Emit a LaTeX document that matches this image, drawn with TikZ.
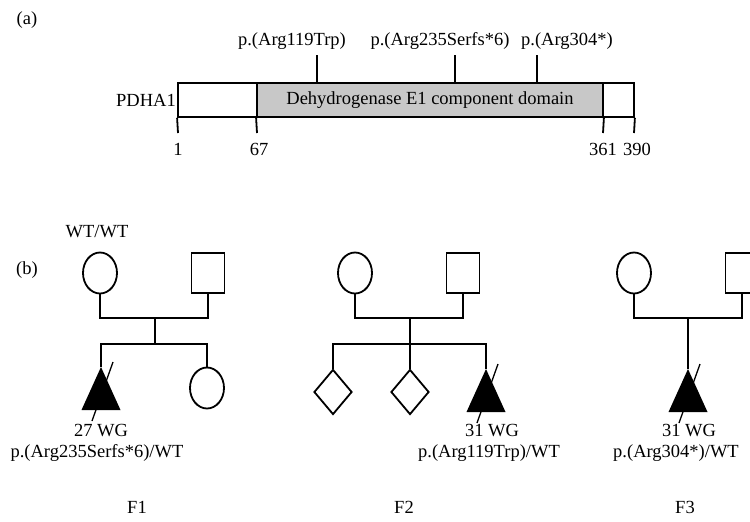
\documentclass[tikz,border=0pt]{standalone}
\usepackage{fontspec}
\setmainfont{Liberation Serif}
\usetikzlibrary{shapes.geometric,calc}
\definecolor{domgray}{RGB}{200,200,200}
\tikzset{
  lw/.style={line width=1.8pt},
  txt/.style={font=\fontsize{18.5}{20}\selectfont, inner sep=0pt},
  femalebox/.style={ellipse, draw, lw, minimum width=34pt, minimum height=41pt, inner sep=0pt},
  malebox/.style={rectangle, draw, lw, minimum width=33pt, minimum height=40pt, inner sep=0pt},
  unkbox/.style={diamond, draw, lw, minimum width=38pt, minimum height=45pt, inner sep=0pt},
  affected/.style={fill=black},
  slashline/.style={line width=1.3pt},
  conn/.style={lw}
}
\begin{document}
\begin{tikzpicture}[x=1pt,y=-1pt]
\useasboundingbox (0,0) rectangle (750,522);
\clip (0,0) rectangle (750,522);
% ---------- (a) protein ----------
\node[txt] (la) at (27,20) {(a)};
\node[rectangle, draw, lw, minimum width=456pt, minimum height=34pt, inner sep=0pt] (bar) at (406,100) {};
\node[rectangle, draw, lw, fill=domgray, minimum width=346pt, minimum height=34pt, inner sep=0pt, txt] (dom) at (430,100) {Dehydrogenase E1 component domain};
\node[txt, anchor=east] (pd) at (176,100) {PDHA1};
% tick coordinates
\coordinate (t1) at (178,133);
\coordinate (t67) at (257,133);
\coordinate (t361) at (603,133);
\coordinate (t390) at (634,133);
\draw[lw] (bar.south west) -- (t1);
\draw[lw] (dom.south west) -- (t67);
\draw[lw] (dom.south east) -- (t361);
\draw[lw] (bar.south east) -- (t390);
\node[txt] (n1) at (178,149) {1};
\node[txt] (n67) at (259,149) {67};
\node[txt] (n361) at (603,149) {361};
\node[txt] (n390) at (637,149) {390};
% mutations
\node[txt] (mA) at (292,41) {p.(Arg119Trp)};
\node[txt] (mB) at (440,41) {p.(Arg235Serfs*6)};
\node[txt] (mC) at (567,41) {p.(Arg304*)};
\coordinate (uA) at (317,55);
\coordinate (uB) at (455,55);
\coordinate (uC) at (537,55);
\draw[lw] (uA) -- (uA |- dom.north);
\draw[lw] (uB) -- (uB |- dom.north);
\draw[lw] (uC) -- (uC |- dom.north);
% ---------- (b) pedigrees ----------
\node[txt] (lb) at (27,270) {(b)};
\node[txt] (wt) at (97,232) {WT/WT};
% F1
\node[femalebox] (m1) at (100,273) {};
\node[malebox] (f1) at (208,273) {};
\coordinate (mar1) at (155,318);
\coordinate (sib1) at (155,344);
\coordinate (a1) at (101,367);
\node[femalebox] (c12) at (207,388) {};
\draw[conn] (m1.south) |- (mar1) -| (f1.south);
\draw[conn] (mar1) -- (sib1);
\draw[conn] (a1) |- (sib1) -| (c12.north);
\fill[affected] (a1) -- ++(19.5,43) -- ++(-39,0) -- cycle;
\draw[slashline] ($(a1)+(12,-5)$) -- ($(a1)+(-9,54)$);
\node[txt] (w1) at (101,431) {27 WG};
\node[txt] (g1) at (97,453) {p.(Arg235Serfs*6)/WT};
\node[txt] (F1) at (137,507) {F1};
% F2
\node[femalebox] (m2) at (355,273) {};
\node[malebox] (f2) at (463,273) {};
\coordinate (mar2) at (410,318);
\coordinate (sib2) at (410,344);
\node[unkbox] (c21) at (333,392) {};
\node[unkbox] (c22) at (410,392) {};
\coordinate (a2) at (486,369);
\draw[conn] (m2.south) |- (mar2) -| (f2.south);
\draw[conn] (mar2) -- (sib2) -- (c22.north);
\draw[conn] (c21.north) |- (sib2) -| (a2);
\fill[affected] (a2) -- ++(19.5,43) -- ++(-39,0) -- cycle;
\draw[slashline] ($(a2)+(12,-5)$) -- ($(a2)+(-9,54)$);
\node[txt] (w2) at (492,431) {31 WG};
\node[txt] (g2) at (489,453) {p.(Arg119Trp)/WT};
\node[txt] (F2) at (404,507) {F2};
% F3
\node[femalebox] (m3) at (634,273) {};
\node[malebox] (f3) at (742,273) {};
\coordinate (mar3) at (688,318);
\coordinate (a3) at (688,369);
\draw[conn] (m3.south) |- (mar3) -| (f3.south);
\draw[conn] (mar3) -- (a3);
\fill[affected] (a3) -- ++(19.5,43) -- ++(-39,0) -- cycle;
\draw[slashline] ($(a3)+(12,-5)$) -- ($(a3)+(-9,54)$);
\node[txt] (w3) at (689,431) {31 WG};
\node[txt] (g3) at (676,453) {p.(Arg304*)/WT};
\node[txt] (F3) at (685,507) {F3};
\end{tikzpicture}
\end{document}
